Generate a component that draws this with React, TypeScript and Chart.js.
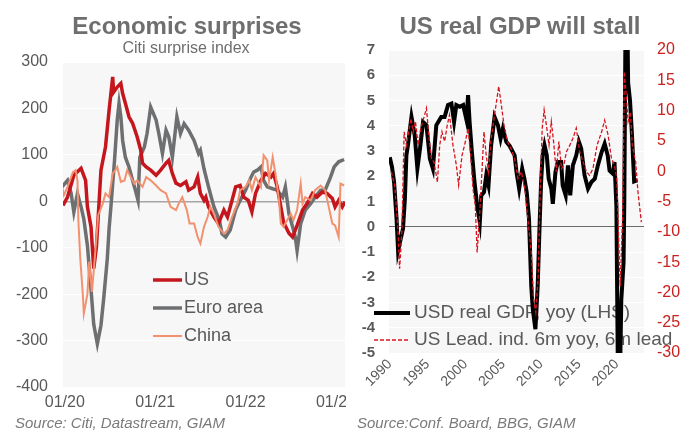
import React, { useEffect, useRef } from 'react';
import { Chart, registerables } from 'chart.js';

Chart.register(...registerables);

const FONT = "'Liberation Sans', Arial, Helvetica, sans-serif";
Chart.defaults.font.family = FONT;

// ---------- Left chart: Citi economic surprise index ----------
const surpriseTicks = [-400, -300, -200, -100, 0, 100, 200, 300];

const usDates = [2019.98, 2020.03, 2020.10, 2020.18, 2020.23, 2020.25, 2020.29, 2020.32, 2020.35, 2020.40, 2020.45, 2020.49, 2020.53, 2020.54, 2020.58, 2020.62, 2020.64, 2020.67, 2020.71, 2020.75, 2020.80, 2020.84, 2020.86, 2020.90, 2020.95, 2021.01, 2021.06, 2021.12, 2021.15, 2021.19, 2021.23, 2021.28, 2021.34, 2021.37, 2021.43, 2021.47, 2021.50, 2021.54, 2021.56, 2021.59, 2021.65, 2021.70, 2021.76, 2021.80, 2021.85, 2021.89, 2021.94, 2021.98, 2022.03, 2022.07, 2022.11, 2022.17, 2022.22, 2022.28, 2022.31, 2022.35, 2022.39, 2022.42, 2022.48, 2022.52, 2022.57, 2022.63, 2022.68, 2022.74, 2022.79, 2022.85, 2022.90, 2022.96, 2022.99, 2023.03, 2023.07, 2023.10];
const usValues = [-9, 9, 56, 71, 45, -12, -55, -145, -98, 67, 117, 196, 268, 235, 246, 254, 232, 211, 182, 168, 139, 110, 82, 74, 67, 56, 67, 82, 88, 60, 39, 34, 42, 24, 31, 52, 17, 2, 9, -12, -34, -48, -19, -34, 2, 31, 34, 9, 2, -23, 17, 45, 60, 52, 60, 31, -12, -45, -69, -77, -52, -19, -5, 17, 9, 20, 17, 6, -12, 2, -12, -1];

const euroDates = [2019.97, 2020.03, 2020.07, 2020.10, 2020.14, 2020.18, 2020.21, 2020.25, 2020.29, 2020.32, 2020.36, 2020.40, 2020.43, 2020.47, 2020.49, 2020.51, 2020.55, 2020.58, 2020.60, 2020.62, 2020.64, 2020.67, 2020.71, 2020.75, 2020.78, 2020.81, 2020.83, 2020.88, 2020.91, 2020.95, 2021.01, 2021.04, 2021.08, 2021.12, 2021.15, 2021.19, 2021.24, 2021.28, 2021.32, 2021.37, 2021.43, 2021.48, 2021.50, 2021.54, 2021.59, 2021.65, 2021.71, 2021.74, 2021.78, 2021.83, 2021.89, 2021.94, 2022.00, 2022.06, 2022.09, 2022.13, 2022.17, 2022.20, 2022.24, 2022.30, 2022.35, 2022.41, 2022.44, 2022.48, 2022.52, 2022.55, 2022.57, 2022.61, 2022.66, 2022.72, 2022.77, 2022.83, 2022.88, 2022.94, 2022.98, 2023.03, 2023.09];
const euroValues = [31, 45, 17, -23, 17, -12, -38, -95, -190, -265, -307, -267, -210, -124, -59, -12, 88, 175, 211, 182, 131, 95, 74, 45, 24, 2, 95, 117, 146, 203, 175, 146, 103, 153, 139, 95, 182, 146, 167, 153, 131, 103, 110, 70, 31, -12, -41, -70, -77, -62, -19, 2, 24, 52, 63, 67, 74, 45, 31, 27, 24, 9, 31, -27, -55, -77, -106, -48, -19, -5, 9, 24, 24, 52, 74, 85, 90];

const chinaDates = [2019.97, 2019.99, 2020.03, 2020.09, 2020.12, 2020.14, 2020.15, 2020.17, 2020.20, 2020.21, 2020.25, 2020.27, 2020.30, 2020.32, 2020.37, 2020.42, 2020.45, 2020.49, 2020.53, 2020.56, 2020.58, 2020.62, 2020.66, 2020.69, 2020.73, 2020.77, 2020.80, 2020.86, 2020.90, 2020.95, 2021.01, 2021.06, 2021.12, 2021.17, 2021.23, 2021.26, 2021.30, 2021.35, 2021.38, 2021.43, 2021.47, 2021.50, 2021.54, 2021.58, 2021.61, 2021.65, 2021.70, 2021.76, 2021.80, 2021.85, 2021.91, 2021.94, 2022.00, 2022.04, 2022.07, 2022.11, 2022.17, 2022.20, 2022.24, 2022.26, 2022.30, 2022.33, 2022.37, 2022.39, 2022.42, 2022.46, 2022.50, 2022.53, 2022.57, 2022.61, 2022.63, 2022.66, 2022.72, 2022.77, 2022.83, 2022.88, 2022.92, 2022.96, 2022.99, 2023.03, 2023.05, 2023.09];
const chinaValues = [31, 13, 31, 63, 67, 45, -41, -120, -203, -242, -200, -130, -195, -150, -30, -5, 17, 9, 60, 67, 74, 42, 45, 67, 52, 38, 45, 31, 52, 45, 34, 24, 17, -12, -19, -5, 9, -19, -48, -48, -77, -91, -55, -34, -12, -27, -55, -70, -62, -34, -5, 24, 31, 45, 24, 52, 31, 99, 88, 45, 95, 60, 2, -48, -55, -41, -27, -41, -19, 38, -5, 9, 2, 24, 34, 24, -12, -48, -52, -77, 38, 34];

// ---------- Right chart: US GDP vs leading index ----------
const gdpYears = [1990.0, 1990.3, 1990.57, 1990.9, 1991.1, 1991.45, 1991.75, 1992.0, 1992.2, 1992.4, 1992.87, 1993.3, 1993.65, 1994.0, 1994.4, 1994.85, 1995.3, 1995.7, 1996.15, 1996.8, 1997.25, 1997.7, 1998.15, 1998.5, 1998.8, 1999.25, 1999.7, 2000.15, 2000.35, 2000.55, 2000.85, 2001.2, 2001.55, 2001.9, 2002.1, 2002.45, 2002.75, 2003.05, 2003.4, 2003.85, 2004.3, 2004.65, 2004.95, 2005.4, 2005.85, 2006.5, 2006.75, 2007.1, 2007.5, 2007.8, 2008.1, 2008.4, 2008.7, 2008.9, 2009.25, 2009.55, 2009.8, 2010.0, 2010.2, 2010.45, 2010.75, 2011.0, 2011.35, 2011.55, 2011.9, 2012.2, 2012.65, 2012.85, 2013.25, 2013.55, 2013.85, 2014.2, 2014.65, 2015.0, 2015.3, 2015.75, 2016.2, 2016.65, 2017.1, 2017.5, 2018.0, 2018.4, 2018.8, 2019.05, 2019.5, 2019.7, 2019.95, 2020.25, 2020.6, 2020.9, 2021.0, 2021.25, 2021.5, 2021.75, 2022.0, 2022.3, 2022.75];
const gdpValues = [2.75, 2.36, 1.77, 0.31, -0.95, -0.48, -0.08, 1.1, 2.83, 3.23, 4.35, 3.62, 2.3, 3.1, 4.15, 4.02, 2.7, 2.3, 4.02, 4.35, 4.35, 4.82, 4.88, 4.15, 4.82, 4.75, 4.82, 4.22, 5.21, 4.15, 2.96, 1.77, 0.84, 0.18, 1.24, 1.37, 2.03, 1.64, 3.23, 4.35, 4.02, 3.49, 3.89, 3.36, 3.2, 2.83, 2.17, 1.51, 2.3, 1.9, 1.37, 0.31, -2.34, -3.26, -4.06, -2.34, 0.05, 1.77, 2.83, 3.23, 2.83, 1.9, 1.51, 0.91, 2.17, 2.56, 2.56, 1.64, 1.24, 2.43, 1.24, 2.43, 2.83, 3.36, 3.1, 2.03, 1.51, 1.77, 1.9, 2.43, 2.96, 3.29, 2.83, 2.23, 2.1, 2.56, 0.84, -9.1, -2.9, -1.4, 1.1, 12.2, 5.7, 5.0, 3.7, 1.8, 1.85];

const leadYears = [1990.2, 1990.65, 1991.1, 1991.3, 1991.6, 1991.9, 1992.2, 1992.5, 1992.8, 1993.1, 1993.4, 1993.75, 1994.1, 1994.55, 1994.85, 1995.15, 1995.5, 1995.85, 1996.3, 1996.6, 1996.9, 1997.25, 1997.6, 1997.9, 1998.35, 1998.8, 1999.1, 1999.55, 2000.0, 2000.35, 2000.7, 2001.0, 2001.3, 2001.55, 2001.9, 2002.2, 2002.45, 2002.75, 2003.05, 2003.4, 2003.85, 2004.4, 2004.75, 2005.1, 2005.55, 2006.0, 2006.5, 2006.95, 2007.4, 2007.85, 2008.25, 2008.7, 2009.0, 2009.3, 2009.6, 2009.9, 2010.15, 2010.4, 2010.7, 2011.05, 2011.35, 2011.65, 2012.0, 2012.35, 2012.7, 2013.0, 2013.35, 2013.8, 2014.2, 2014.65, 2015.1, 2015.55, 2016.0, 2016.4, 2016.85, 2017.4, 2018.0, 2018.4, 2018.85, 2019.3, 2019.7, 2020.0, 2020.45, 2020.8, 2021.0, 2021.25, 2021.5, 2021.8, 2022.05, 2022.5, 2022.8, 2023.25];
const leadValues = [-0.1, -2.3, -10, -16.1, -10, 6.5, 4.3, 6.5, 8.7, 6.5, 8.2, 4.3, 7.1, 9.0, 10.4, 6, 2.1, 1.5, -1.8, 4.3, 6.5, 4.9, 7.6, 9.3, 4.3, 1.0, -2.3, 2.6, 4.9, 7.1, 2.6, -2.9, -5.6, -13.4, -6.7, 0.4, 6.5, 2.6, -0.1, 5.4, 9.3, 14, 10.9, 7.6, 4.9, 3.8, 2.1, -1.2, -0.1, -2.9, -7.8, -13.4, -21, -23.3, -17.8, -2.3, 7.1, 10.1, 7.6, 4.3, 8.2, 4.9, -0.1, 4.9, 0.4, 1.0, 3.2, 4.3, 5.4, 7.1, 3.2, 1.5, -0.1, -0.7, 0.4, 4.3, 6.5, 8.4, 6, 2.1, 1.0, -1.2, -19, -6.7, 16.4, 12.6, 8.2, 9.8, 4.3, 1.5, -3.4, -8.4];

const pairs = (xs: number[], ys: number[]) =>
  xs.slice(0, Math.min(xs.length, ys.length)).map((x, i) => ({ x, y: ys[i] }));

const GRAY_TEXT = '#595959';
const RED_TEXT = '#c9211e';

const plotBg = {
  id: 'plotBg',
  beforeDraw(chart: any, _a: any, opts: any) {
    const { ctx, chartArea: a } = chart;
    ctx.save();
    ctx.fillStyle = opts.color || '#f7f7f7';
    ctx.fillRect(a.left, a.top, a.right - a.left, a.bottom - a.top);
    ctx.restore();
  },
};

const insideLegend = {
  id: 'insideLegend',
  beforeDatasetsDraw(chart: any, _a: any, opts: any) {
    const ctx = chart.ctx;
    ctx.save();
    ctx.font = `${opts.fontSize}px ${FONT}`;
    ctx.textBaseline = 'middle';
    ctx.textAlign = 'left';
    chart.data.datasets.forEach((ds: any, i: number) => {
      const y = opts.y + i * opts.spacing;
      ctx.beginPath();
      ctx.setLineDash(ds.borderDash || []);
      ctx.strokeStyle = ds.borderColor;
      ctx.lineWidth = ds.borderWidth;
      ctx.moveTo(opts.x, y);
      ctx.lineTo(opts.x + opts.lineLength, y);
      ctx.stroke();
      ctx.setLineDash([]);
      ctx.fillStyle = opts.color;
      ctx.fillText(ds.label, opts.x + opts.lineLength + opts.gap, y);
    });
    ctx.restore();
  },
};

function LeftChart() {
  const ref = useRef<HTMLCanvasElement | null>(null);
  useEffect(() => {
    if (!ref.current) return;
    const chart = new Chart(ref.current, {
      type: 'line',
      data: {
        datasets: [
          { label: 'US', data: pairs(usDates, usValues), borderColor: '#c4161c', borderWidth: 3.5, pointRadius: 0, tension: 0, order: 1 },
          { label: 'Euro area', data: pairs(euroDates, euroValues), borderColor: '#6e6f71', borderWidth: 3.5, pointRadius: 0, tension: 0, order: 2 },
          { label: 'China', data: pairs(chinaDates, chinaValues), borderColor: '#f2916f', borderWidth: 2, pointRadius: 0, tension: 0, order: 0 },
        ],
      },
      options: {
        animation: false,
        responsive: false,
        layout: { padding: { top: 62, right: 25, bottom: 13, left: 0 } },
        plugins: {
          legend: { display: false },
          tooltip: { enabled: false },
          plotBg: { color: '#f7f7f7' },
          insideLegend: { x: 153, y: 280, spacing: 28, lineLength: 29, gap: 2, fontSize: 18, color: GRAY_TEXT },
        } as any,
        scales: {
          x: {
            type: 'linear',
            min: 2019.98,
            max: 2023.1,
            border: { display: false },
            grid: { display: false, drawTicks: false },
            ticks: {
              stepSize: 1,
              includeBounds: false,
              autoSkip: false,
              maxRotation: 0,
              minRotation: 0,
              padding: 6,
              color: GRAY_TEXT,
              font: { size: 16, family: FONT },
              callback: (v: any) => '01/' + String(Math.round(Number(v))).slice(2),
            },
            afterFit: (s: any) => { s.height = 30; },
          },
          y: {
            min: surpriseTicks[0],
            max: surpriseTicks[surpriseTicks.length - 1],
            border: { display: false },
            grid: {
              drawTicks: false,
              color: (c: any) => (c.tick && c.tick.value === 0 ? '#a6a6a6' : '#ffffff'),
              lineWidth: (c: any) => (c.tick && c.tick.value === 0 ? 1.5 : 1),
            },
            ticks: { stepSize: 100, padding: 15, color: GRAY_TEXT, font: { size: 16, family: FONT } },
            afterFit: (s: any) => { s.width = 63; },
          },
        },
      } as any,
      plugins: [plotBg, insideLegend],
    });
    return () => chart.destroy();
  }, []);
  return <canvas ref={ref} width={370} height={430} style={{ display: 'block' }} />;
}

function RightChart() {
  const ref = useRef<HTMLCanvasElement | null>(null);
  useEffect(() => {
    if (!ref.current) return;
    const chart = new Chart(ref.current, {
      type: 'line',
      data: {
        datasets: [
          { label: 'USD real GDP, yoy (LHS)', data: pairs(gdpYears, gdpValues), yAxisID: 'y', borderColor: '#000000', borderWidth: 4, pointRadius: 0, tension: 0, order: 1 },
          { label: 'US Lead. ind. 6m yoy, 6m lead', data: pairs(leadYears, leadValues), yAxisID: 'y1', borderColor: '#d7141e', borderWidth: 1.3, borderDash: [4, 2], pointRadius: 0, tension: 0, order: 0 },
        ],
      },
      options: {
        animation: false,
        responsive: false,
        layout: { padding: { top: 50, right: 0, bottom: 37, left: 0 } },
        plugins: {
          legend: { display: false },
          tooltip: { enabled: false },
          plotBg: { color: '#f7f7f7' },
          insideLegend: { x: 28, y: 313, spacing: 27, lineLength: 36, gap: 4, fontSize: 19, color: GRAY_TEXT },
        } as any,
        scales: {
          x: {
            type: 'linear',
            min: 1989.9,
            max: 2023.6,
            border: { display: false },
            grid: { display: false, drawTicks: false },
            ticks: {
              stepSize: 5,
              includeBounds: false,
              autoSkip: false,
              maxRotation: 45,
              minRotation: 45,
              padding: 3,
              color: GRAY_TEXT,
              font: { size: 14, family: FONT },
              callback: (v: any) => String(Math.round(Number(v))),
            },
            afterFit: (s: any) => { s.height = 40; },
          },
          y: {
            position: 'left',
            min: -5,
            max: 7,
            border: { display: false },
            grid: {
              drawTicks: false,
              color: (c: any) => (c.tick && c.tick.value === 0 ? '#6b6b6b' : '#ffffff'),
              lineWidth: 1,
            },
            ticks: { stepSize: 1, padding: 14, color: GRAY_TEXT, font: { size: 15, weight: 'bold', family: FONT } },
            afterFit: (s: any) => { s.width = 43; },
          },
          y1: {
            position: 'right',
            min: -30,
            max: 20,
            border: { display: false },
            grid: { display: false, drawTicks: false },
            ticks: { stepSize: 5, padding: 13, color: RED_TEXT, font: { size: 16, family: FONT } },
            afterFit: (s: any) => { s.width = 38; },
          },
        },
      } as any,
      plugins: [plotBg, insideLegend],
    });
    return () => chart.destroy();
  }, []);
  return <canvas ref={ref} width={336} height={430} style={{ display: 'block' }} />;
}

const titleStyle: React.CSSProperties = {
  position: 'absolute',
  top: 14,
  fontFamily: FONT,
  fontWeight: 'bold',
  fontSize: 24,
  lineHeight: '24px',
  color: '#6e6e6e',
  textAlign: 'center',
  whiteSpace: 'nowrap',
};

const sourceStyle: React.CSSProperties = {
  position: 'absolute',
  top: 415,
  fontFamily: FONT,
  fontStyle: 'italic',
  fontSize: 15,
  lineHeight: '15px',
  color: '#7a7a7a',
  whiteSpace: 'nowrap',
};

export default function App() {
  return (
    <div style={{ position: 'absolute', left: 0, top: 0, width: 682, height: 430, background: '#ffffff', overflow: 'hidden' }}>
      <div style={{ position: 'absolute', left: 0, top: 0 }}>
        <LeftChart />
      </div>
      <div style={{ position: 'absolute', left: 346, top: 0, background: '#ffffff' }}>
        <RightChart />
      </div>
      <div style={{ ...titleStyle, left: 0, width: 374 }}>Economic surprises</div>
      <div style={{ position: 'absolute', left: 0, width: 372, top: 40, textAlign: 'center', fontFamily: FONT, fontSize: 16, lineHeight: '16px', color: '#6e6e6e' }}>
        Citi surprise index
      </div>
      <div style={{ ...titleStyle, left: 358, width: 324 }}>US real GDP will stall</div>
      <div style={{ ...sourceStyle, left: 15 }}>Source: Citi, Datastream, GIAM</div>
      <div style={{ ...sourceStyle, left: 357 }}>Source:Conf. Board, BBG, GIAM</div>
    </div>
  );
}
